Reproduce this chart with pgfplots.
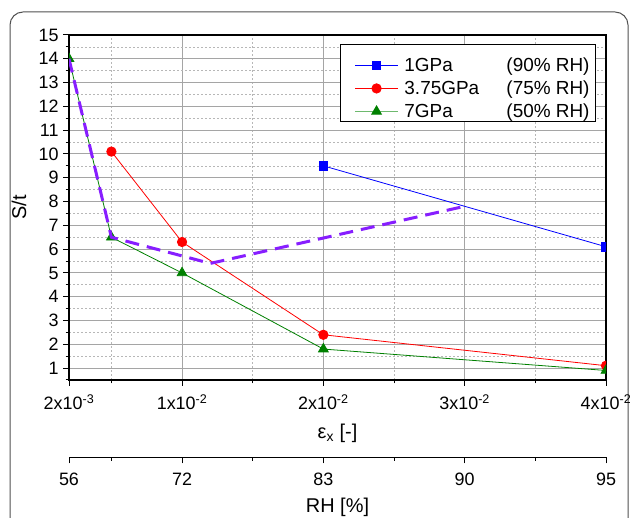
\documentclass[border=0pt]{standalone}
\usepackage{fontspec}
\setmainfont{Liberation Sans}
\usepackage{pgfplots}
\pgfplotsset{compat=1.18}

\definecolor{dashviolet}{RGB}{135,30,255}
\definecolor{gridgray}{RGB}{165,165,165}
\definecolor{framegray}{RGB}{80,80,80}
\definecolor{darkgreen}{RGB}{0,128,0}
\definecolor{legendgreen}{RGB}{110,185,110}

\pgfplotsset{
  ticks common/.style={
    scale only axis, width=537bp,
    xmin=0.002, xmax=0.04,
    scaled x ticks=false,
    xtick={0.002,0.01,0.02,0.03,0.04},
    minor xtick={0.005,0.015,0.025,0.035},
    tick align=outside,
    major tick length=6bp, minor tick length=3.5bp,
    tick style={black, line width=1bp},
    ticklabel style={font=\fontsize{18}{21}\selectfont},
    label style={font=\fontsize{20}{24}\selectfont},
    /pgf/number format/assume math mode=true,
  },
  green legend/.style={
    legend image code/.code={\path (0bp,0bp) (57bp,0bp);
      \draw[##1, mark=none, draw=legendgreen, line width=1.6bp] (8bp,6bp) -- (51bp,6bp);
      \draw[##1] plot coordinates {(29.5bp,6bp)};},
  },
}

\begin{document}
\begin{tikzpicture}[x=1bp,y=1bp]
\useasboundingbox (0,0) rectangle (630,518);
\draw[framegray, line width=1bp, rounded corners=13bp]
  (10,-30) -- (10,506) -- (628,506) -- (628,-30);

% main axis
\begin{axis}[
  ticks common,
  at={(69bp,138bp)}, anchor=south west,
  height=345bp,
  ymin=0.5, ymax=15,
  ytick={1,2,...,15},
  minor ytick={0.5,1.5,...,14.5},
  xtick pos=bottom, ytick pos=left,
  xticklabels={2x10\textsuperscript{-3},1x10\textsuperscript{-2},2x10\textsuperscript{-2},3x10\textsuperscript{-2},4x10\textsuperscript{-2}},
  xticklabel style={yshift=-5bp},
  yticklabel style={xshift=-1bp},
  grid=both,
  major grid style={gridgray, line width=1bp},
  minor grid style={gridgray!80, line width=0.7bp, dash pattern=on 2bp off 2bp},
  axis line style={black, line width=1.3bp},
  xlabel={ε\textsubscript{x} [-]},
  xlabel style={at={(axis description cs:0.5,0)}, anchor=center, yshift=-53bp},
  ylabel={S/t},
  ylabel style={at={(axis description cs:-0.0931,0.5)}, anchor=center},
  clip marker paths=true,
  legend style={at={(rel axis cs:1,1)}, anchor=north east, xshift=-10bp, yshift=-9bp,
    draw=black, line width=0.9bp, fill=white, inner xsep=6bp, inner ysep=0bp,
    font=\fontsize{19}{21}\selectfont, row sep=0bp,
    cells={anchor=base west},
    nodes={inner sep=0bp, text height=18.5bp, text depth=4.5bp}},
  legend image code/.code={\path (0bp,0bp) (57bp,0bp);
    \draw[mark repeat=2,mark phase=2,#1]
    plot coordinates {(8bp,6bp) (29.5bp,6bp) (51bp,6bp)};},
]
\addplot[blue, line width=0.8bp, mark=square*, mark size=4.3bp, mark options={solid}]
  coordinates {(0.02,9.5) (0.04,6.1)};
\addlegendentry[text height=27bp]{\makebox[102bp][l]{1GPa}(90\% RH)}
\addplot[red, line width=0.8bp, mark=*, mark size=4.7bp, mark options={solid}]
  coordinates {(0.005,10.1) (0.01,6.3) (0.02,2.4) (0.04,1.1)};
\addlegendentry{\makebox[102bp][l]{3.75GPa}(75\% RH)}
\addplot[darkgreen, line width=0.8bp, mark=triangle*, mark size=5.6bp, mark options={solid},
  green legend]
  coordinates {(0.002,14) (0.005,6.5) (0.01,5.0) (0.02,1.8) (0.04,0.9)};
\addlegendentry{\makebox[102bp][l]{7GPa}(50\% RH)}
\addplot[dashviolet, line width=3bp, dash pattern=on 14bp off 8bp, no marks, forget plot]
  coordinates {(0.002,14) (0.005,6.5) (0.012,5.4) (0.03,7.8)};
\end{axis}

% secondary RH axis
\begin{axis}[
  ticks common,
  at={(69bp,60.7bp)}, anchor=south west,
  height=1bp, ymin=0, ymax=1,
  axis x line*=bottom, axis y line=none,
  axis line style={black, line width=1.3bp},
  xticklabels={56,72,83,90,95},
  xticklabel style={yshift=-6bp},
  xlabel={RH [\%]},
  xlabel style={at={(axis description cs:0.5,0)}, anchor=center, yshift=-50bp},
]
\addplot[draw=none] coordinates {(0.01,0.5)};
\end{axis}
\end{tikzpicture}
\end{document}
